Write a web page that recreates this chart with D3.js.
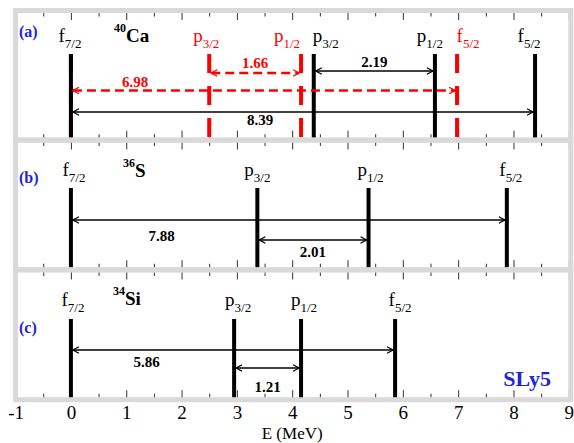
<!DOCTYPE html>
<html>
<head>
<meta charset="utf-8">
<script src="https://cdn.jsdelivr.net/npm/d3@7"></script>
<style>
body { margin: 0; background: #fff; }
svg { display: block; }
</style>
</head>
<body>
<svg id="graph" width="574" height="443" style="font-family: 'Liberation Serif', 'Times New Roman', Times, 'DejaVu Serif', serif;"></svg>
<script>
// data
var panelTags = ["(a)", "(b)", "(c)"];
var massNumbers = ["40", "36", "34"];
var elements = ["Ca", "S", "Si"];
var orbitals = ["f", "p", "p", "f"];
var spins = ["7/2", "3/2", "1/2", "5/2"];
// level energies in MeV, order f7/2, p3/2, p1/2, f5/2
var levelsCa = [0, 4.39, 6.58, 8.39];
var levelsCaRed = [0, 2.50, 4.16, 6.98];
var levelsS = [0, 3.37, 5.38, 7.88];
var levelsSi = [0, 2.95, 4.16, 5.86];
var xTicks = [-1, 0, 1, 2, 3, 4, 5, 6, 7, 8, 9];
var xMinor = [-0.5, 0.5, 1.5, 2.5, 3.5, 4.5, 5.5, 6.5, 7.5, 8.5];
var xTitle = "E (MeV)";
var modelName = "SLy5";

var FONT = "Liberation Serif";
var BLUE = "#2323dc", RED = "#ff0000", FRAME = "#d9d9d9";

var svg = d3.select("#graph");
var x = d3.scaleLinear().domain([-1, 9]).range([15.6, 568.8]);

// layout of each panel (pixels, except label x which is in MeV)
var panels = [
  {levels: levelsCa, top: 10.5, lineTop: 54, labelY: 42, ffY: 112, ppY: 71,
   ffLab: [3.42, 125], ppLabY: 66.5, offs: [-1, 12, -5, -6], tagY: 37, nucX: 114, nucY: 42},
  {levels: levelsS, top: 140, lineTop: 188, labelY: 176, ffY: 220, ppY: 240,
   ffLab: [1.64, 241], ppLabY: 257, offs: [3, 0, 2, 4], tagY: 183, nucX: 123, nucY: 177},
  {levels: levelsSi, top: 270, lineTop: 319, labelY: 306, ffY: 350, ppY: 368,
   ffLab: [1.37, 367], ppLabY: 392, offs: [2, 4, 3, 5], tagY: 333, nucX: 113, nucY: 305}
];
var panelH = 129.7;
var redLayout = {ffY: 90.5, ppY: 73, ffLab: [1.16, 87], ppLabY: 68, offs: [null, -3, -14, 11]};

// arrow heads
var defs = svg.append("defs");
[["black", "#000"], ["red", RED]].forEach(function(c) {
  defs.append("marker")
      .attr("id", "arr-" + c[0])
      .attr("viewBox", "-8 -5 10 10")
      .attr("markerWidth", 10).attr("markerHeight", 10)
      .attr("markerUnits", "userSpaceOnUse")
      .attr("refX", 0).attr("refY", 0)
      .attr("orient", "auto-start-reverse")
    .append("path")
      .attr("d", "M-6,-3.2L0,0L-6,3.2")
      .attr("fill", "none")
      .attr("stroke", c[1])
      .attr("stroke-width", 1.3);
});

// ticks on top and bottom of every panel
panels.forEach(function(p) {
  var bottom = p.top + panelH;
  [[d3.axisTop, p.top], [d3.axisBottom, bottom]].forEach(function(a) {
    svg.append("g").attr("transform", "translate(0," + a[1] + ")")
       .call(a[0](x).tickValues(xTicks).tickSize(-9.5).tickFormat(""))
       .call(function(g) { g.select(".domain").remove(); g.selectAll("line").attr("stroke", "#333"); });
    svg.append("g").attr("transform", "translate(0," + a[1] + ")")
       .call(a[0](x).tickValues(xMinor).tickSize(-6).tickFormat(""))
       .call(function(g) { g.select(".domain").remove(); g.selectAll("line").attr("stroke", "#333"); });
  });
});

function levelLabel(g, i, xpos, y, color) {
  var t = g.append("text")
      .attr("x", xpos).attr("y", y)
      .attr("text-anchor", "middle")
      .attr("font-family", FONT)
      .attr("fill", color)
      .attr("font-size", 19);
  t.append("tspan").text(orbitals[i]);
  t.append("tspan").attr("font-size", 13).attr("dy", 6).text(spins[i]);
}

function arrow(g, a, b, y, color, dashed) {
  g.append("line")
      .attr("x1", x(a) + 2).attr("x2", x(b) - 2)
      .attr("y1", y).attr("y2", y)
      .attr("stroke", color === "red" ? RED : "#000")
      .attr("stroke-width", dashed ? 2.3 : 1.4)
      .attr("stroke-dasharray", dashed ? "9,5" : null)
      .attr("marker-start", "url(#arr-" + color + ")")
      .attr("marker-end", "url(#arr-" + color + ")");
}

function gapLabel(g, xpos, y, value, color) {
  g.append("text")
      .attr("x", xpos).attr("y", y)
      .attr("text-anchor", "middle")
      .attr("font-family", FONT)
      .attr("font-weight", "bold")
      .attr("font-size", 15)
      .attr("fill", color)
      .text(d3.format(".2f")(value));
}

panels.forEach(function(p, k) {
  var g = svg.append("g");
  var bottom = p.top + panelH;
  var L = p.levels;

  // red dashed levels (only for 40Ca)
  if (k === 0) {
    var R = levelsCaRed;
    g.selectAll(".red-level").data(R).enter().append("line")
        .attr("x1", function(d) { return x(d); }).attr("x2", function(d) { return x(d); })
        .attr("y1", p.lineTop).attr("y2", bottom)
        .attr("stroke", RED).attr("stroke-width", 4)
        .attr("stroke-dasharray", "19,13");
    R.forEach(function(d, i) {
      if (redLayout.offs[i] !== null) levelLabel(g, i, x(d) + redLayout.offs[i], p.labelY, RED);
    });
  }

  // black levels
  g.selectAll(".level").data(L).enter().append("line")
      .attr("x1", function(d) { return x(d); }).attr("x2", function(d) { return x(d); })
      .attr("y1", p.lineTop).attr("y2", bottom)
      .attr("stroke", "#000").attr("stroke-width", 4);
  L.forEach(function(d, i) { levelLabel(g, i, x(d) + p.offs[i], p.labelY, "#000"); });

  // spin-orbit gaps
  if (k === 0) {
    var R2 = levelsCaRed;
    arrow(g, R2[1], R2[2], redLayout.ppY, "red", true);
    arrow(g, R2[0], R2[3], redLayout.ffY, "red", true);
    gapLabel(g, (x(R2[1]) + x(R2[2])) / 2, redLayout.ppLabY, R2[2] - R2[1], RED);
    gapLabel(g, x(redLayout.ffLab[0]), redLayout.ffLab[1], R2[3] - R2[0], RED);
  }
  arrow(g, L[0], L[3], p.ffY, "black", false);
  arrow(g, L[1], L[2], p.ppY, "black", false);
  gapLabel(g, x(p.ffLab[0]), p.ffLab[1], L[3] - L[0], "#000");
  gapLabel(g, (x(L[1]) + x(L[2])) / 2, p.ppLabY, L[2] - L[1], "#000");

  // panel tag and nucleus
  g.append("text")
      .attr("x", 19).attr("y", p.tagY)
      .attr("font-family", FONT)
      .attr("font-weight", "bold").attr("font-size", 16)
      .attr("fill", BLUE)
      .text(panelTags[k]);
  var nt = g.append("text")
      .attr("x", p.nucX).attr("y", p.nucY)
      .attr("font-family", FONT)
      .attr("font-weight", "bold");
  nt.append("tspan").attr("font-size", 12).attr("dy", -10).text(massNumbers[k]);
  nt.append("tspan").attr("font-size", 19).attr("dy", 10).text(elements[k]);

  // frame
  svg.append("rect")
      .attr("x", x(-1)).attr("y", p.top)
      .attr("width", x(9) - x(-1) + 2).attr("height", panelH)
      .attr("fill", "none")
      .attr("stroke", FRAME).attr("stroke-width", 5);
});

// model name
svg.append("text")
    .attr("x", 551).attr("y", 385.5)
    .attr("text-anchor", "end")
    .attr("font-family", FONT)
    .attr("font-weight", "bold").attr("font-size", 22)
    .attr("fill", BLUE)
    .text(modelName);

// x axis labels
var yAxis0 = panels[2].top + panelH;
svg.append("g")
    .attr("transform", "translate(0," + yAxis0 + ")")
    .call(d3.axisBottom(x).tickValues(xTicks).tickSize(0).tickPadding(6)
          .tickFormat(function(d) { return String(d); }))
    .call(function(g) {
      g.select(".domain").remove();
      g.attr("font-family", FONT).attr("font-size", 19);
      g.selectAll("text").attr("fill", "#000");
    });

svg.append("text")
    .attr("x", x(4)).attr("y", 438.5)
    .attr("text-anchor", "middle")
    .attr("font-family", FONT)
    .attr("font-size", 17)
    .text(xTitle);
</script>
</body>
</html>
